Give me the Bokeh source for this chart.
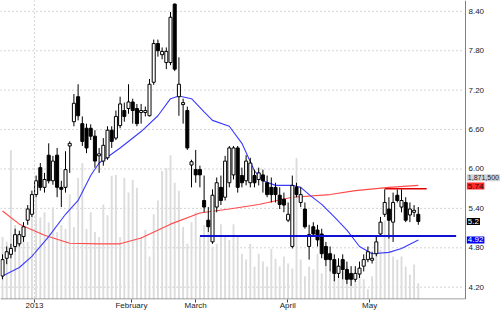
from bokeh.plotting import figure
from bokeh.models import Range1d, FixedTicker, Span, ColumnDataSource
from bokeh.core.properties import value
from bokeh.embed import file_html
from bokeh.resources import INLINE

# ---------------- data ----------------
opens = [4.37, 4.64, 4.70, 4.82, 4.86, 4.97, 5.22, 5.31, 5.61, 6.02,
         5.72, 6.21, 5.82, 6.21, 5.72, 5.72, 6.35, 6.72, 7.10, 6.69,
         6.62, 6.62, 6.50, 6.20, 6.12, 6.17, 6.59, 6.47, 6.66, 6.89,
         6.92, 7.02, 6.92, 6.86, 6.86, 6.81, 7.32, 7.91, 7.74, 7.62,
         7.62, 8.51, 7.10, 6.98, 6.89, 6.06, 5.99, 5.99, 5.52, 5.22,
         4.89, 5.42, 5.72, 5.57, 5.79, 5.91, 6.32, 5.90, 5.82, 5.79,
         5.90, 5.84, 5.91, 5.79, 5.72, 5.72, 5.60, 5.54, 5.22, 4.82,
         5.72, 5.49, 5.39, 4.82, 5.12, 5.07, 5.01, 4.82, 4.71, 4.62,
         4.41, 4.62, 4.47, 4.41, 4.32, 4.40, 4.52, 4.62, 4.61, 4.71,
         5.01, 5.31, 5.39, 5.19, 5.60, 5.42, 5.49, 5.30, 5.34, 5.31]
highs = [4.70, 4.82, 4.86, 5.09, 5.06, 5.19, 5.45, 5.67, 5.90, 6.09,
         5.94, 6.39, 6.20, 6.32, 5.82, 6.27, 6.42, 7.14, 7.29, 6.80,
         6.69, 6.68, 6.59, 6.32, 6.47, 6.65, 6.65, 6.89, 7.10, 7.01,
         7.29, 7.07, 6.99, 6.99, 6.95, 7.37, 7.97, 7.97, 7.85, 7.85,
         8.39, 8.52, 7.70, 7.07, 6.95, 6.14, 6.29, 6.05, 5.90, 5.42,
         5.69, 5.87, 5.90, 6.20, 6.35, 6.35, 6.35, 6.02, 6.21, 6.17,
         5.99, 6.02, 5.99, 5.90, 5.87, 5.79, 5.72, 5.64, 5.49, 5.90,
         5.79, 5.72, 5.49, 5.15, 5.19, 5.15, 5.09, 4.89, 4.82, 4.70,
         4.64, 4.70, 4.59, 4.52, 4.52, 4.59, 4.70, 4.82, 4.74, 4.97,
         5.27, 5.69, 5.57, 5.64, 5.69, 5.69, 5.57, 5.49, 5.45, 5.42]
lows = [4.32, 4.55, 4.64, 4.74, 4.82, 4.89, 5.15, 5.27, 5.57, 5.67,
        5.64, 5.78, 5.76, 5.57, 5.42, 5.64, 5.94, 6.65, 6.74, 6.35,
        6.24, 6.44, 6.02, 5.94, 6.05, 6.14, 6.32, 6.44, 6.62, 6.72,
        6.84, 6.69, 6.65, 6.69, 6.80, 6.80, 7.28, 7.71, 7.67, 7.52,
        7.58, 7.49, 6.81, 6.69, 6.29, 5.72, 5.79, 5.72, 5.34, 5.04,
        4.86, 5.34, 5.45, 5.52, 5.72, 5.84, 5.64, 5.72, 5.75, 5.72,
        5.72, 5.75, 5.64, 5.57, 5.49, 5.49, 5.39, 5.34, 5.19, 4.79,
        5.57, 5.42, 5.09, 4.62, 4.97, 4.82, 4.64, 4.52, 4.44, 4.29,
        4.34, 4.32, 4.25, 4.22, 4.28, 4.34, 4.44, 4.58, 4.56, 4.67,
        4.97, 5.27, 4.94, 4.89, 5.49, 5.34, 5.19, 5.19, 5.27, 5.15]
closes = [4.62, 4.74, 4.79, 5.00, 5.00, 5.12, 5.39, 5.61, 5.82, 5.72,
          5.84, 5.82, 6.12, 5.72, 5.69, 5.99, 6.39, 7.00, 6.81, 6.42,
          6.32, 6.50, 6.12, 6.23, 6.36, 6.59, 6.42, 6.80, 6.99, 6.80,
          7.02, 6.89, 6.69, 6.89, 6.89, 7.29, 7.91, 7.80, 7.79, 7.79,
          8.31, 7.52, 7.29, 7.01, 6.32, 6.11, 5.91, 5.91, 5.42, 5.12,
          5.60, 5.79, 5.52, 6.12, 6.32, 6.32, 5.72, 5.79, 6.12, 6.09,
          5.79, 5.94, 5.82, 5.61, 5.61, 5.61, 5.46, 5.45, 5.31, 5.75,
          5.61, 5.61, 5.12, 5.00, 5.01, 4.92, 4.71, 4.62, 4.62, 4.41,
          4.52, 4.47, 4.32, 4.32, 4.41, 4.49, 4.62, 4.74, 4.64, 4.89,
          5.19, 5.49, 5.22, 5.49, 5.52, 5.52, 5.22, 5.39, 5.37, 5.20]
volumes_k = [958, 882, 2295, 1140, 958, 1079, 882, 1292, 1566, 1262,
             1338, 1186, 1414, 1034, 1140, 1079, 1611, 1110, 1870, 2098,
             1079, 1338, 1034, 958, 1459, 1292, 1900, 1915, 958, 1870,
             1642, 1839, 1718, 958, 1064, 654, 1307, 1520, 1976, 2022,
             2219, 1794, 1672, 1110, 851, 1186, 1338, 958, 1140, 1034,
             806, 851, 1155, 958, 912, 1155, 958, 699, 608, 851,
             502, 699, 578, 502, 775, 623, 502, 654, 547, 471,
             2174, 608, 350, 502, 456, 699, 395, 502, 426, 502,
             350, 426, 502, 380, 456, 456, 304, 152, 350, 988,
             760, 1216, 1003, 654, 608, 654, 502, 380, 532, 243]

fast_ma_idx = [0, 4, 7, 11, 15, 18, 21, 23, 28, 33, 37, 40, 42, 45, 48, 50, 54, 57,
               60, 62, 65, 69, 71, 73, 76, 79, 82, 85, 88, 92, 95, 99]
fast_ma = [4.37, 4.50, 4.67, 4.97, 5.31, 5.52, 5.90, 6.09, 6.32, 6.57, 6.81, 7.07, 7.11, 7.07,
           6.87, 6.74, 6.65, 6.39, 5.97, 5.82, 5.75, 5.75, 5.72, 5.61, 5.46, 5.27, 5.07, 4.82,
           4.71, 4.73, 4.79, 4.92]
slow_ma_idx = [0, 4, 10, 16, 23, 28, 33, 40, 47, 54, 61, 69, 78, 84, 92, 99]
slow_ma = [5.36, 5.16, 4.99, 4.87, 4.86, 4.86, 4.95, 5.16, 5.33, 5.39, 5.46, 5.57, 5.61,
           5.67, 5.72, 5.75]

month_ticks = [7.6, 30.7, 46.0, 67.9, 87.4]
month_labels = ["2013", "February", "March", "April", "May"]
price_ticks = [4.20, 4.80, 5.40, 6.00, 6.60, 7.20, 7.80, 8.40]
price_labels = ["4.20", "4.80", "5.40", "6.00", "6.60", "7.20", "7.80", "8.40"]

support_level, support_from, support_to = 4.98, 47, 108
resist_level, resist_from, resist_to = 5.70, 91, 101
vol_marker_k = 1871.5
vol_marker_text = "1,871,500"
slow_tag, last_tag, fast_tag = "5.74", "5.2", "4.92"

# ---------------- layout constants ----------------
FONT = "Liberation Sans"
X_LEFT, X_RIGHT = -0.48, 118.57        # frame spans the full 500 px width
AXIS_X = 110.24                         # price-axis line (px 465)
LABEL_X = 110.95                        # price labels start (px 468)
TAG_X = 110.55                          # tag boxes start (px 466)
Y_BOTTOM, Y_TOP = 4.0125, 8.565
BASE = 4.02                             # price at the bottom axis line
VOL_PER_PRICE = 15.2 / 0.015            # volume (k) per price unit (same pixel scale)

p = figure(width=500, height=312, x_range=Range1d(X_LEFT, X_RIGHT),
           y_range=Range1d(Y_BOTTOM, Y_TOP),
           output_backend="svg", toolbar_location=None,
           min_border_left=0, min_border_top=0, min_border_right=0, min_border_bottom=9,
           background_fill_color="white", border_fill_color="white", outline_line_color=None)
p.extra_y_ranges = {"vol": Range1d((Y_BOTTOM - BASE) * VOL_PER_PRICE,
                                   (Y_TOP - BASE) * VOL_PER_PRICE)}
p.yaxis.visible = False
p.xgrid.visible = False
p.ygrid.visible = False

n = len(opens)
idx = list(range(n))
up = [c >= o for o, c in zip(opens, closes)]
src = ColumnDataSource(dict(
    x=idx, o=opens, h=highs, l=lows, c=closes, v=volumes_k,
    top=[max(o, c) for o, c in zip(opens, closes)],
    bot=[min(o, c) for o, c in zip(opens, closes)],
    fill=["white" if u else "black" for u in up],
))

# dotted grid (horizontal) + year separator
p.segment(x0=[X_LEFT] * len(price_ticks), y0=price_ticks,
          x1=[AXIS_X - 0.6] * len(price_ticks), y1=price_ticks,
          line_color="#a8a8a8", line_dash="1 3", line_width=1)
p.add_layout(Span(location=month_ticks[0], dimension="height", line_color="#a8a8a8",
                  line_dash="1 3", line_width=1))

# volume
p.vbar(x="x", top="v", bottom=0, width=0.45, source=src, y_range_name="vol",
       fill_color="#dcdcdc", line_color=None)

# moving averages
p.line(slow_ma_idx, slow_ma, line_color="#ff4a4a", line_width=1.1)
p.line(fast_ma_idx, fast_ma, line_color="#3a3aff", line_width=1.1)

# candles
p.segment(x0="x", y0="h", x1="x", y1="l", source=src, line_color="black", line_width=1)
p.vbar(x="x", top="top", bottom="bot", width=0.72, source=src, fill_color="fill",
       line_color="black", line_width=1)

# horizontal levels
p.segment(x0=[support_from], y0=[support_level], x1=[support_to], y1=[support_level],
          line_color="#1010d0", line_width=2)
p.segment(x0=[resist_from], y0=[resist_level], x1=[resist_to], y1=[resist_level],
          line_color="#e00000", line_width=1.5)

# axis lines
p.segment(x0=[AXIS_X], y0=[BASE], x1=[AXIS_X], y1=[Y_TOP], line_color="#808080", line_width=1)
p.segment(x0=[X_LEFT], y0=[BASE], x1=[AXIS_X], y1=[BASE], line_color="#808080", line_width=1)

# price labels (right)
p.text(x=[LABEL_X] * len(price_ticks), y=price_ticks, text=price_labels,
       text_font=value(FONT), text_font_size="8px", text_color="#222222",
       text_baseline="middle", text_align="left")

# value tags (right)
p.text(x=[TAG_X], y=[vol_marker_k], y_range_name="vol", text=[vol_marker_text],
       text_font=value(FONT), text_font_size="7px", text_color="#222222",
       text_baseline="middle", text_align="left",
       background_fill_color="#d4d4d4", padding=1)
p.text(x=[TAG_X], y=[float(slow_tag)], text=[slow_tag],
       text_font=value(FONT), text_font_size="8px", text_color="#400000",
       text_baseline="middle", text_align="left",
       background_fill_color="#ff2a2a", padding=1)
p.text(x=[TAG_X], y=[closes[-1]], text=[last_tag],
       text_font=value(FONT), text_font_size="8px", text_color="white",
       text_baseline="middle", text_align="left",
       background_fill_color="black", padding=1)
p.text(x=[TAG_X], y=[fast_ma[-1]], text=[fast_tag],
       text_font=value(FONT), text_font_size="8px", text_color="white",
       text_baseline="middle", text_align="left",
       background_fill_color="#0000ee", padding=1)

# bottom (time) axis
xa = p.xaxis[0]
xa.ticker = FixedTicker(ticks=month_ticks)
xa.major_label_overrides = {t: s for t, s in zip(month_ticks, month_labels)}
xa.axis_line_color = None
xa.major_tick_in = 0
xa.major_tick_out = 3
xa.major_tick_line_color = "#404040"
xa.minor_tick_line_color = None
xa.major_label_standoff = -2
xa.major_label_text_align = "left"
xa.major_label_text_font = FONT
xa.major_label_text_font_size = "8px"
xa.major_label_text_color = "#222222"

open("out.html", "w").write(file_html(p, INLINE))
